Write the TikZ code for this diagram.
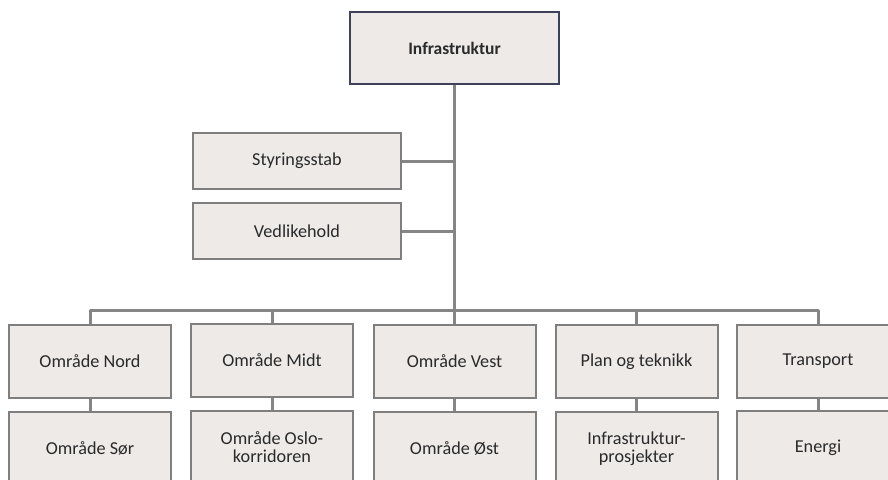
\documentclass[tikz,border=0pt]{standalone}
\usepackage{fontspec}
\setmainfont{Carlito}
\definecolor{boxfill}{HTML}{EDEAE8}
\definecolor{boxline}{HTML}{7F7F7F}
\definecolor{headline}{HTML}{3E4259}
\definecolor{linkgray}{HTML}{858585}
\definecolor{txt}{HTML}{2A2A2A}
\tikzset{
  orgbox/.style={draw=boxline, line width=2pt, fill=boxfill, text=txt,
    minimum width=162pt, minimum height=73pt, inner sep=0pt, align=center,
    font=\fontsize{18.2}{18}\selectfont},
  sidebox/.style={orgbox, minimum width=208pt, minimum height=56pt},
  headbox/.style={orgbox, draw=headline, line width=2.6pt,
    minimum width=209pt, minimum height=72pt, font=\fontsize{17.5}{18}\selectfont\bfseries},
  link/.style={draw=linkgray, line width=3pt, line join=round}
}
\begin{document}
\begin{tikzpicture}[x=1pt,y=-1pt]
\useasboundingbox (0,0) rectangle (888,479);
\clip (0,0) rectangle (888,479);
\fill[white] (0,0) rectangle (888,479);

% head unit
\node[headbox] (head) at (454.5,48) {Infrastruktur};

% staff units
\node[sidebox] (sty) at (297,161) {Styringsstab};
\node[sidebox] (ved) at (297,231) {Vedlikehold};

% first row of departments
\node[orgbox] (nord)  at (90,361.5)  {Område Nord};
\node[orgbox] (midt)  at (272,360.5) {Område Midt};
\node[orgbox] (vest)  at (454.5,361.5) {Område Vest};
\node[orgbox] (plan)  at (636.5,361.5) {Plan og teknikk};
\node[orgbox] (trans) at (818,361) {Transport};

% second row of departments
\node[orgbox] (sor)   at (90,448.5)  {Område Sør};
\node[orgbox] (oslo)  at (272,447.5) {Område Oslo-\\korridoren};
\node[orgbox] (ost)   at (454.5,448.5) {Område Øst};
\node[orgbox] (infra) at (636.5,448.5) {Infrastruktur-\\prosjekter};
\node[orgbox] (energ) at (818,447.5) {Energi};

% distribution bus
\coordinate (bus) at (454,310);

% trunk and staff branches
\draw[link] (head.south) -- (vest.north);
\draw[link] (sty.east) -- (sty.east -| head.south);
\draw[link] (ved.east) -- (ved.east -| head.south);

% bus to first row
\draw[link] (nord.north) -- (nord.north |- bus) -- (trans.north |- bus) -- (trans.north);
\foreach \n in {midt,plan}
  \draw[link] (\n.north) -- (\n.north |- bus);

% first row to second row
\draw[link] (nord.south) -- (sor.north);
\draw[link] (midt.south) -- (oslo.north);
\draw[link] (vest.south) -- (ost.north);
\draw[link] (plan.south) -- (infra.north);
\draw[link] (trans.south) -- (energ.north);
\end{tikzpicture}
\end{document}
